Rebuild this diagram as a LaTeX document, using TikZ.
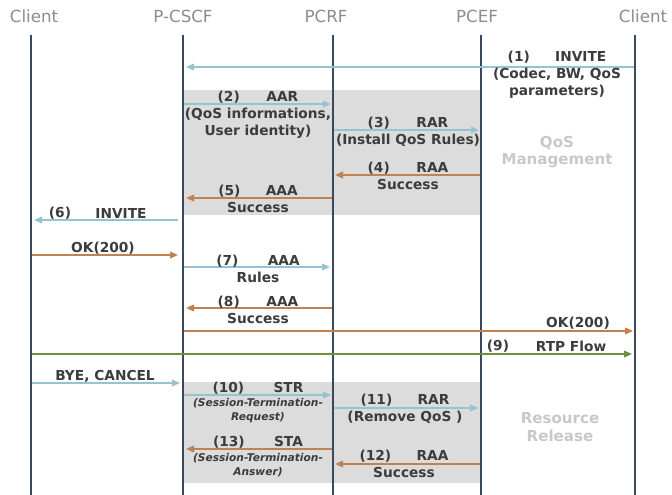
\documentclass[tikz,border=0pt]{standalone}
\usepackage{fontspec}
\setmainfont{DejaVu Sans}
\usetikzlibrary{arrows.meta}
\definecolor{lifec}{HTML}{3A4A5C}
\definecolor{bluec}{HTML}{95C3D1}
\definecolor{orangec}{HTML}{C08250}
\definecolor{greenc}{HTML}{6F9040}
\definecolor{boxc}{HTML}{DCDCDC}
\definecolor{txtc}{HTML}{3C3C3C}
\definecolor{headc}{HTML}{8C8C8C}
\definecolor{notec}{HTML}{C8C8C8}
\begin{document}
\begin{tikzpicture}[x=0.75pt,y=-0.75pt,
  life/.style={draw=lifec,line width=1.6pt},
  msg/.style={line width=1.2pt,-{Triangle[length=6pt,width=5pt]}},
  req/.style={msg,draw=bluec},
  ans/.style={msg,draw=orangec},
  rtp/.style={msg,draw=greenc},
  head/.style={font=\fontsize{12.5}{14}\selectfont,text=headc,inner sep=0pt},
  lab/.style={font=\bfseries\fontsize{10.3}{12.8}\selectfont,text=txtc,inner sep=0pt,align=center},
  note/.style={font=\bfseries\fontsize{11.3}{13}\selectfont,text=notec,inner sep=0pt,align=center},
  itl/.style={font=\bfseries\itshape\fontsize{8}{10.5}\selectfont}]
\useasboundingbox (0,0) rectangle (672,495);
% shaded regions
\fill[boxc] (183,90) rectangle (481,215);
\fill[boxc] (183,382) rectangle (481,483);
% headers
\node[head] (hC1) at (34,16) {Client};
\node[head] (hP) at (183,16) {P-CSCF};
\node[head] (hR) at (326,16) {PCRF};
\node[head] (hE) at (477,16) {PCEF};
\node[head] (hC2) at (643,16) {Client};
% lifelines
\foreach \n/\x in {c/31,p/183,r/333,e/481,d/635}{
  \coordinate (\n t) at (\x,35);
  \coordinate (\n b) at (\x,495);
  \draw[life] (\n t) -- (\n b);
}
% message end points
\coordinate (m1a) at (634,67);  \coordinate (m1b) at (186,67);
\coordinate (m2a) at (184,104); \coordinate (m2b) at (331,104);
\coordinate (m3a) at (334,130); \coordinate (m3b) at (479,130);
\coordinate (m4a) at (480,175); \coordinate (m4b) at (335,175);
\coordinate (m5a) at (332,198); \coordinate (m5b) at (186,198);
\coordinate (m6a) at (178,220); \coordinate (m6b) at (34,220);
\coordinate (k1a) at (32,255);  \coordinate (k1b) at (178,255);
\coordinate (m7a) at (184,267); \coordinate (m7b) at (330,267);
\coordinate (m8a) at (332,308); \coordinate (m8b) at (186,308);
\coordinate (k2a) at (184,331); \coordinate (k2b) at (633,331);
\coordinate (m9a) at (32,354);  \coordinate (m9b) at (632,354);
\coordinate (bya) at (32,383);  \coordinate (byb) at (180,383);
\coordinate (m10a) at (184,395); \coordinate (m10b) at (331,395);
\coordinate (m11a) at (334,408); \coordinate (m11b) at (478,408);
\coordinate (m12a) at (480,464); \coordinate (m12b) at (335,464);
\coordinate (m13a) at (332,449); \coordinate (m13b) at (186,449);
% arrows
\draw[req] (m1a) -- (m1b);
\draw[req] (m2a) -- (m2b);
\draw[req] (m3a) -- (m3b);
\draw[ans] (m4a) -- (m4b);
\draw[ans] (m5a) -- (m5b);
\draw[req] (m6a) -- (m6b);
\draw[ans] (k1a) -- (k1b);
\draw[req] (m7a) -- (m7b);
\draw[ans] (m8a) -- (m8b);
\draw[ans] (k2a) -- (k2b);
\draw[rtp] (m9a) -- (m9b);
\draw[req] (bya) -- (byb);
\draw[req] (m10a) -- (m10b);
\draw[req] (m11a) -- (m11b);
\draw[ans] (m12a) -- (m12b);
\draw[ans] (m13a) -- (m13b);
% labels
\node[lab] (l1) at (557,75) {(1)\hspace{19pt}INVITE\\(Codec, BW, QoS\\parameters)};
\node[lab] (l2) at (258,115) {(2)\hspace{20pt}AAR\\(QoS informations,\\User identity)};
\node[lab] (l3) at (408,132) {(3)\hspace{20pt}RAR\\(Install QoS Rules)};
\node[lab] (l4) at (408,176) {(4)\hspace{20pt}RAA\\Success};
\node[lab] (l5) at (258,199) {(5)\hspace{19pt}AAA\\Success};
\node[lab] (l6a) at (60,213) {(6)};
\node[lab] (l6b) at (121,213) {INVITE};
\node[lab] (lk1) at (103,248) {OK(200)};
\node[lab] (l7) at (258,269) {(7)\hspace{22pt}AAA\\Rules};
\node[lab] (l8) at (258,310) {(8)\hspace{20pt}AAA\\Success};
\node[lab] (lk2) at (578,323) {OK(200)};
\node[lab] (l9a) at (498,346) {(9)};
\node[lab] (l9b) at (571,346) {RTP Flow};
\node[lab] (lby) at (105,376) {BYE, CANCEL};
\node[lab] (l10) at (258,388) {(10)\hspace{22pt}STR};
\node[lab,itl] (l10b) at (258,411) {(Session-Termination-\\Request)};
\node[lab] (l11) at (405,409) {(11)\hspace{19pt}RAR\\(Remove QoS )};
\node[lab] (l12) at (404,464) {(12)\hspace{19pt}RAA\\Success};
\node[lab] (l13) at (258,442) {(13)\hspace{22pt}STA};
\node[lab,itl] (l13b) at (258,465) {(Session-Termination-\\Answer)};
\node[note] (nq) at (557,152) {QoS\\Management};
\node[note] (nr) at (560,427) {Resource\\Release};
\end{tikzpicture}
\end{document}
